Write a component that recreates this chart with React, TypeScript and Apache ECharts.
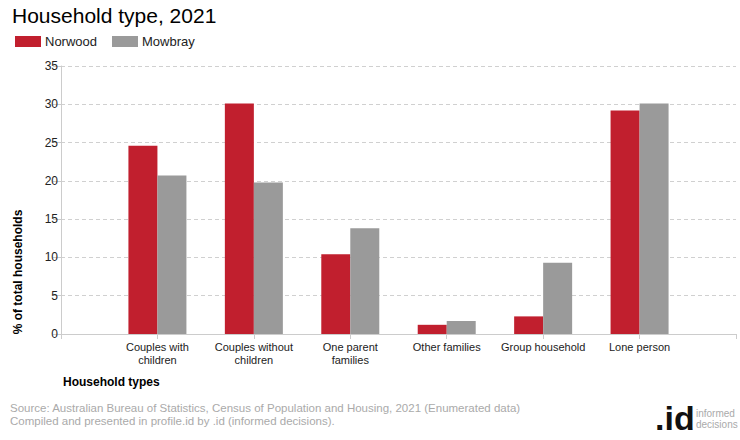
import React, { useEffect, useRef } from "react";
import * as echarts from "echarts";

const categories = [
  "",
  "Couples with\nchildren",
  "Couples without\nchildren",
  "One parent\nfamilies",
  "Other families",
  "Group household",
  "Lone person",
  "",
];
const norwood = [null, 24.6, 30.1, 10.4, 1.2, 2.3, 29.2, null];
const mowbray = [null, 20.7, 19.8, 13.8, 1.7, 9.3, 30.1, null];
const seriesNames = ["Norwood", "Mowbray"];
const yTicks = { min: 0, max: 35, interval: 5 };

const RED = "#C11F2E";
const GRAY = "#9A9A9A";
const FONT = "Liberation Sans, Arial, sans-serif";

export default function App() {
  const ref = useRef<HTMLDivElement>(null);
  useEffect(() => {
    document.body.style.margin = "0";
    const chart = echarts.init(ref.current!, null, { renderer: "svg" });
    chart.setOption({
      animation: false,
      textStyle: { fontFamily: FONT },
      grid: { left: 61, top: 66, right: 4, bottom: 106, containLabel: false },
      legend: {
        left: 10,
        top: 30,
        itemWidth: 26,
        itemHeight: 11,
        itemGap: 15,
        itemStyle: { borderWidth: 0 },
        textStyle: { fontSize: 13, color: "#222", fontFamily: FONT, padding: [0, 0, 0, -1] },
        data: seriesNames,
        icon: "rect",
      },
      title: {
        text: "Household type, 2021",
        left: 7,
        top: 0,
        textStyle: { fontSize: 21, fontWeight: "normal", color: "#000", fontFamily: FONT },
      },
      xAxis: {
        type: "category",
        data: categories,
        boundaryGap: false,
        axisLine: { lineStyle: { color: "#ccc" } },
        axisTick: { show: true, length: 5, lineStyle: { color: "#ccc" } },
        axisLabel: {
          color: "#222",
          fontSize: 11,
          lineHeight: 13,
          margin: 6,
          interval: 0,
          fontFamily: FONT,
        },
        splitLine: { show: false },
      },
      yAxis: {
        type: "value",
        min: yTicks.min,
        max: yTicks.max,
        interval: yTicks.interval,
        axisLine: { show: true, lineStyle: { color: "#ccc" } },
        axisTick: { show: true, length: 8, lineStyle: { color: "#ccc" } },
        axisLabel: { color: "#222", fontSize: 12, margin: 3, fontFamily: FONT },
        splitLine: { lineStyle: { color: "#d0d0d0", type: [4, 3] } },
      },
      series: [
        {
          name: seriesNames[0],
          type: "bar",
          data: norwood,
          barWidth: 29,
          barGap: "0%",
          itemStyle: { color: RED },
        },
        {
          name: seriesNames[1],
          type: "bar",
          data: mowbray,
          barWidth: 29,
          barGap: "0%",
          itemStyle: { color: GRAY },
        },
      ],
      graphic: [
        {
          type: "text",
          x: 18,
          y: 272,
          rotation: Math.PI / 2,
          style: {
            text: "% of total households",
            fontSize: 12,
            fontWeight: "bold",
            fill: "#000",
            fontFamily: FONT,
            textAlign: "center",
            textVerticalAlign: "middle",
          },
        },
        {
          type: "text",
          x: 63,
          y: 382,
          style: {
            text: "Household types",
            fontSize: 12,
            fontWeight: "bold",
            fill: "#000",
            fontFamily: FONT,
            textVerticalAlign: "middle",
          },
        },
        {
          type: "text",
          x: 10,
          y: 408,
          style: {
            text: "Source: Australian Bureau of Statistics, Census of Population and Housing, 2021 (Enumerated data)",
            fontSize: 11.5,
            fill: "#aaa",
            fontFamily: FONT,
            textVerticalAlign: "middle",
          },
        },
        {
          type: "text",
          x: 10,
          y: 421,
          style: {
            text: "Compiled and presented in profile.id by .id (informed decisions).",
            fontSize: 11.5,
            fill: "#aaa",
            fontFamily: FONT,
            textVerticalAlign: "middle",
          },
        },
        {
          type: "text",
          x: 655,
          y: 418,
          style: {
            text: ".id",
            fontSize: 34,
            fontWeight: "bold",
            fill: "#111",
            fontFamily: FONT,
            textVerticalAlign: "middle",
          },
        },
        {
          type: "text",
          x: 696,
          y: 413,
          style: {
            text: "informed",
            fontSize: 10,
            fill: "#aaa",
            fontFamily: FONT,
            textVerticalAlign: "middle",
          },
        },
        {
          type: "text",
          x: 696,
          y: 424,
          style: {
            text: "decisions",
            fontSize: 10,
            fill: "#aaa",
            fontFamily: FONT,
            textVerticalAlign: "middle",
          },
        },
      ],
    });
    return () => chart.dispose();
  }, []);
  return <div ref={ref} style={{ width: 740, height: 440 }} />;
}
